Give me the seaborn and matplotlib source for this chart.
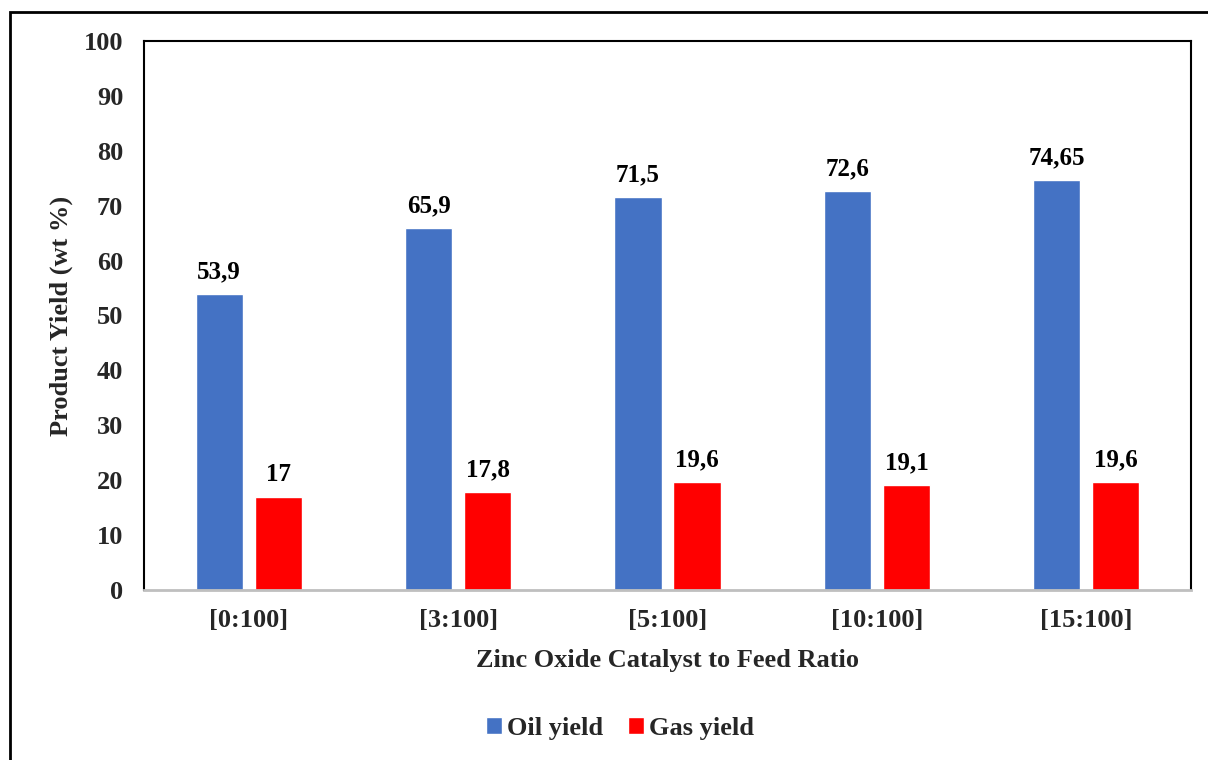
import matplotlib
matplotlib.use("Agg")
import matplotlib.pyplot as plt
from matplotlib.patches import Rectangle
import pandas as pd
import seaborn as sns

# Product yields for each ZnO catalyst : feed ratio
ratios = ["[0:100]", "[3:100]", "[5:100]", "[10:100]", "[15:100]"]
oil_yield = [53.9, 65.9, 71.5, 72.6, 74.65]
gas_yield = [17, 17.8, 19.6, 19.1, 19.6]
series_names = ["Oil yield", "Gas yield"]
y_ticks = [0, 10, 20, 30, 40, 50, 60, 70, 80, 90, 100]

df = pd.DataFrame({
    "ratio": ratios * 2,
    "product": [series_names[0]] * len(ratios) + [series_names[1]] * len(ratios),
    "value": oil_yield + gas_yield,
})

sns.set_theme(style="white")
plt.rcParams["font.family"] = ["Liberation Serif", "DejaVu Serif"]
plt.rcParams["font.weight"] = "bold"

fig = plt.figure(figsize=(12.08, 7.6), dpi=100)
ax = fig.add_axes([144 / 1208, 1 - 590 / 760, (1191 - 144) / 1208, (590 - 41) / 760])

palette = {series_names[0]: "#4472C4", series_names[1]: "#FF0000"}
sns.barplot(data=df, x="ratio", y="value", hue="product", order=ratios,
            hue_order=series_names, palette=palette, width=0.5636, gap=0.203,
            saturation=1, ax=ax, legend=True)

# value labels with decimal commas
for container, vals in zip(ax.containers, [oil_yield, gas_yield]):
    labels = [f"{v:g}".replace(".", ",") for v in vals]
    ax.bar_label(container, labels=labels, padding=8, fontsize=18,
                 fontweight="bold", color="black")

ax.set_ylim(0, 100)
ax.set_yticks(y_ticks)
ax.set_xlim(-0.5, len(ratios) - 0.5)
ax.tick_params(axis="y", length=0, pad=15, labelsize=19)
ax.tick_params(axis="x", length=0, pad=14, labelsize=19)
for lbl in ax.get_xticklabels() + ax.get_yticklabels():
    lbl.set_fontweight("bold")

for side in ["left", "top", "right"]:
    ax.spines[side].set_visible(True)
    ax.spines[side].set_color("black")
    ax.spines[side].set_linewidth(1.5)
ax.spines["bottom"].set_color("#BFBFBF")
ax.spines["bottom"].set_linewidth(2)

ax.set_xlabel("Zinc Oxide Catalyst to Feed Ratio", fontsize=19, fontweight="bold")
ax.set_ylabel("Product Yield (wt %)", fontsize=19, fontweight="bold")
ax.xaxis.label.set_va("center")
ax.xaxis.set_label_coords(0.5, -(661 - 590) / 549)
ax.yaxis.label.set_va("center")
ax.yaxis.set_label_coords(-(144 - 61) / 1047, 0.5)

handles, labels = ax.get_legend_handles_labels()
ax.legend(handles, labels, loc="center", bbox_to_anchor=(620 / 1208, 1 - 728 / 760),
          bbox_transform=fig.transFigure, ncol=2, frameon=False,
          prop={"size": 19, "weight": "bold"}, handlelength=0.6, handleheight=0.6,
          handletextpad=0.2, columnspacing=0.95)

# outer chart frame
fig.patches.append(Rectangle((10 / 1208, -0.05), 1.2, 1 - 12 / 760 + 0.05,
                             transform=fig.transFigure, fill=False,
                             edgecolor="black", linewidth=2))

fig.savefig("out.png", dpi=100)
